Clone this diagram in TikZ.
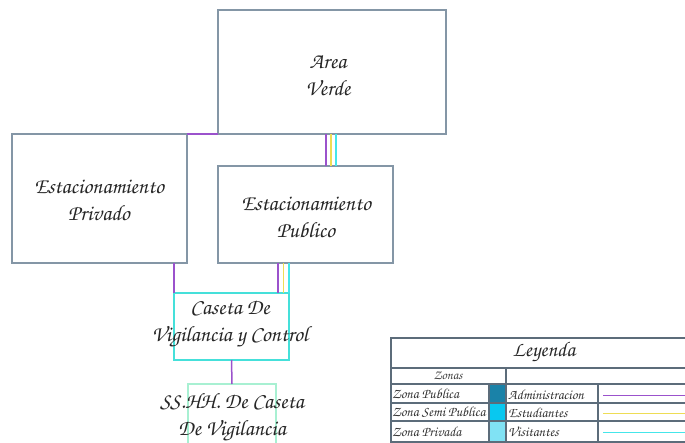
\documentclass[tikz,border=0pt]{standalone}
\usepackage{fontspec}
\newfontfamily\scrf[Extension=.otf]{texgyrechorus-mediumitalic}
\usetikzlibrary{calc}
\definecolor{boxc}{HTML}{8496A6}
\definecolor{casc}{HTML}{45E0DA}
\definecolor{ssc}{HTML}{A8F0D2}
\definecolor{purp}{HTML}{9B52CC}
\definecolor{yell}{HTML}{EEDD55}
\definecolor{cyan2}{HTML}{45E6EA}
\definecolor{legc}{HTML}{5C6C7A}
\definecolor{swA}{HTML}{1A82A8}
\definecolor{swB}{HTML}{08C8F0}
\definecolor{swC}{HTML}{80E2F4}
\tikzset{
  room/.style={draw=boxc, line width=1.2pt, inner sep=0pt, outer sep=0pt},
  bigtxt/.style={align=center, inner sep=0pt, font=\scrf\fontsize{22}{27}\selectfont, text=black!85},
  smalltxt/.style={anchor=west, inner sep=0pt, font=\scrf\fontsize{14}{14}\selectfont, text=black!80},
  pur/.style={draw=purp, line width=1.5pt},
  yel/.style={draw=yell, line width=1.5pt},
  cya/.style={draw=cyan2, line width=1.5pt},
  leg/.style={draw=legc, line width=1.2pt},
}
\begin{document}
\begin{tikzpicture}[x=1pt,y=-1pt]
\useasboundingbox (0,0) rectangle (685,443);
\clip (0,0) rectangle (685,443);
\fill[white] (0,0) rectangle (685,443);

% rooms
\node[room, minimum width=228pt, minimum height=124pt] (area) at (332,72) {};
\node[room, minimum width=175pt, minimum height=129pt] (priv) at (99.5,198.5) {};
\node[room, minimum width=175pt, minimum height=97pt] (pub) at (305.5,214.5) {};
\node[room, draw=casc, minimum width=115pt, minimum height=67pt] (cas) at (231.5,326.5) {};
\node[room, draw=ssc, minimum width=88pt, minimum height=60pt] (ss) at (232,414) {};

% labels
\node[bigtxt] (tarea) at (328,76) {Area\\Verde};
\node[bigtxt] (tpriv) at (99,200) {Estacionamiento\\Privado};
\node[bigtxt] (tpub) at (306,217) {Estacionamiento\\Publico};
\node[bigtxt] (tcas) at (230,324) {Caseta De\\Vigilancia y Control};
\node[bigtxt] (tss) at (232,417) {SS.HH. De Caseta\\De Vigilancia};

% connectors
\draw[pur] (priv.north east) -- (area.south west);
\draw[pur] ([xshift=108pt]area.south west) -- ([xshift=108pt]area.south west |- pub.north);
\draw[yel] ([xshift=113pt]area.south west) -- ([xshift=113pt]area.south west |- pub.north);
\draw[cya] ([xshift=118pt]area.south west) -- ([xshift=118pt]area.south west |- pub.north);
\draw[pur] (cas.north west |- priv.south) -- (cas.north west);
\draw[pur] ([xshift=-11pt]cas.north east |- pub.south) -- ([xshift=-11pt]cas.north east);
\draw[yel] ([xshift=-5.5pt]cas.north east |- pub.south) -- ([xshift=-5.5pt]cas.north east);
\draw[cya] (cas.north east |- pub.south) -- (cas.north east);
\draw[pur] (cas.south) -- (ss.north);

% legend
\fill[swA] (489.6,384.6) rectangle (505.4,402.4);
\fill[swB] (489.6,403.6) rectangle (505.4,420.4);
\fill[swC] (489.6,421.6) rectangle (505.4,441.4);
\draw[leg] (391,338) rectangle (700,442);
\draw[leg, line width=1.7pt] (391,368) -- (700,368);
\draw[leg] (391,384) -- (700,384);
\draw[leg] (391,403) -- (700,403);
\draw[leg] (391,421) -- (700,421);
\draw[leg] (506,368) -- (506,442);
\draw[leg] (489,384) -- (489,442);
\draw[leg] (598,384) -- (598,442);
\draw[pur, line width=1.8pt] (603,395.5) -- (690,395.5);
\draw[yel, line width=1.8pt] (603,413.5) -- (690,413.5);
\draw[cya, line width=1.8pt] (603,432.5) -- (690,432.5);

\node[inner sep=0pt, font=\scrf\fontsize{21}{22}\selectfont, text=black!85] (tley) at (544,352) {Leyenda};
\node[inner sep=0pt, font=\scrf\fontsize{13}{13}\selectfont, text=black!75] (tzon) at (448,375.5) {Zonas};
\node[smalltxt] (z1) at (392,394) {Zona Publica};
\node[smalltxt] (z2) at (392,412.5) {Zona Semi Publica};
\node[smalltxt] (z3) at (392,431.5) {Zona Privada};
\node[smalltxt] (u1) at (508,394.5) {Administracion};
\node[smalltxt] (u2) at (508,412.5) {Estudiantes};
\node[smalltxt] (u3) at (508,431.5) {Visitantes};
\end{tikzpicture}
\end{document}
